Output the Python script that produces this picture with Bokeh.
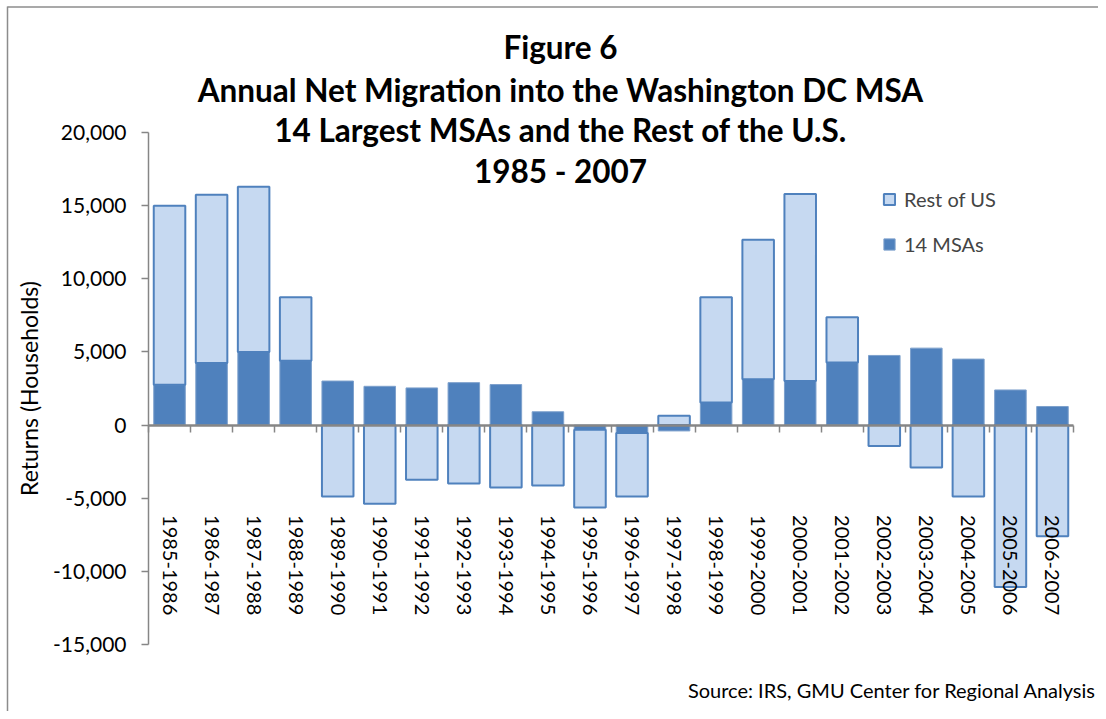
import math
from bokeh.plotting import figure
from bokeh.models import (Range1d, LinearAxis, FixedTicker, NumeralTickFormatter,
                          Label, Legend, LegendItem, ColumnDataSource)
from bokeh.embed import file_html
from bokeh.resources import INLINE

periods = ["1985-1986", "1986-1987", "1987-1988", "1988-1989", "1989-1990",
           "1990-1991", "1991-1992", "1992-1993", "1993-1994", "1994-1995",
           "1995-1996", "1996-1997", "1997-1998", "1998-1999", "1999-2000",
           "2000-2001", "2001-2002", "2002-2003", "2003-2004", "2004-2005",
           "2005-2006", "2006-2007"]
msa = [2750, 4250, 4990, 4400, 3010, 2650, 2540, 2900, 2770, 910,
       -320, -550, -400, 1540, 3130, 3010, 4270, 4760, 5260, 4510,
       2400, 1270]
rest = [12250, 11500, 11300, 4330, -4880, -5370, -3740, -3990, -4260, -4130,
        -5310, -4330, 630, 7190, 9540, 12790, 3100, -1430, -2900, -4880,
        -11070, -7600]
y_ticks = [-15000, -10000, -5000, 0, 5000, 10000, 15000, 20000]
title_lines = ["Figure 6", "Annual Net Migration into the Washington DC MSA",
               "14 Largest MSAs and the Rest of the U.S.", "1985 - 2007"]
y_title = "Returns (Households)"
source_text = "Source: IRS, GMU Center for Regional Analysis"

n = len(periods)
xs = [i + 0.5 for i in range(n)]
rest_bottom = [max(m, 0) if r >= 0 else min(m, 0) for m, r in zip(msa, rest)]
rest_top = [b + r for b, r in zip(rest_bottom, rest)]
src = ColumnDataSource(dict(x=xs, period=periods, msa=msa, zero=[0] * n,
                            rb=rest_bottom, rt=rest_top))

Y0, Y1 = -15000, 20000
FL, FT, FR, FB = 148, 132, 1073, 644   # axis extents in the picture (px)
ORG = 0                                 # picture position of the canvas
W, H = 1098, 711


def px_to_y(py):
    return Y1 - (py - FT) * (Y1 - Y0) / (FB - FT)


def px_to_x(px):
    return (px - FL) * n / (FR - FL)


p = figure(width=W, height=H,
           x_range=Range1d(px_to_x(ORG), px_to_x(ORG + W)),
           y_range=Range1d(px_to_y(ORG + H), px_to_y(ORG)),
           output_backend="svg", toolbar_location=None,
           x_axis_type=None, y_axis_type=None, min_border=0)
p.outline_line_color = None
p.background_fill_color = "white"
p.border_fill_color = "white"
p.grid.visible = False

grey = "#868686"

# chart-area border (top and left edges)
p.segment(x0=[px_to_x(7), px_to_x(7)], y0=[px_to_y(6.5), px_to_y(6)],
          x1=[px_to_x(ORG + W), px_to_x(7)], y1=[px_to_y(6.5), px_to_y(ORG + H)],
          line_color="#8c8c8c", line_width=1.5)

r_msa = p.vbar(x="x", bottom="zero", top="msa", width=0.75, source=src,
               fill_color="#4F81BD", line_color="#7DA0CC", line_width=1)
r_rest = p.vbar(x="x", bottom="rb", top="rt", width=0.75, source=src,
                fill_color="#C6D9F1", line_color="#4F81BD", line_width=2)

yaxis = LinearAxis(fixed_location=0, bounds=(Y0, Y1),
                   ticker=FixedTicker(ticks=y_ticks),
                   formatter=NumeralTickFormatter(format="0,0"),
                   axis_line_color=grey, axis_line_width=1.5,
                   major_tick_line_color=grey, major_tick_line_width=1.5,
                   major_tick_out=7, major_tick_in=0, minor_tick_line_color=None,
                   major_label_text_font="Lato", major_label_text_font_size="21px",
                   major_label_text_color="black", major_label_standoff=15)
p.add_layout(yaxis, "left")

xtick_axis = LinearAxis(fixed_location=0, bounds=(0, n),
                        ticker=FixedTicker(ticks=list(range(n + 1))),
                        axis_line_color=grey, axis_line_width=2.5,
                        major_tick_line_color=grey, major_tick_line_width=1.5,
                        major_tick_out=7, major_tick_in=0, minor_tick_line_color=None,
                        major_label_text_color=None)
p.add_layout(xtick_axis, "below")

xlab_axis = LinearAxis(fixed_location=0, bounds=(0, n), ticker=FixedTicker(ticks=xs),
                       major_label_overrides={x: lab for x, lab in zip(xs, periods)},
                       major_label_orientation="vertical", major_label_standoff=90,
                       major_tick_out=0, major_tick_in=0, major_tick_line_color=None,
                       axis_line_color=None, minor_tick_line_color=None,
                       major_label_text_font="Lato", major_label_text_font_size="20px",
                       major_label_text_color="black")
p.add_layout(xlab_axis, "below")

baselines = [46, 89, 129, 170]
for txt, b in zip(title_lines, baselines):
    p.add_layout(Label(x=px_to_x(560), y=px_to_y(b), text=txt, text_align="center",
                       text_baseline="alphabetic", text_font="Lato",
                       text_font_style="bold", text_font_size="31.5px",
                       text_color="black"))

p.add_layout(Label(x=px_to_x(28), y=px_to_y((FT + FB) / 2), text=y_title,
                   angle=math.pi / 2, text_align="center", text_baseline="middle",
                   text_font="Lato", text_font_size="23px", text_color="black"))

p.add_layout(Label(x=px_to_x(1096), y=px_to_y(689), text=source_text,
                   text_align="right", text_baseline="alphabetic", text_font="Lato",
                   text_font_size="20px", text_color="black"))

legend = Legend(items=[LegendItem(label="Rest of US", renderers=[r_rest]),
                       LegendItem(label="14 MSAs", renderers=[r_msa])],
                location=(882 - ORG, ORG + H - 256), padding=0, margin=0, spacing=21,
                glyph_width=14, glyph_height=14, label_height=20, label_standoff=8,
                label_text_font="Lato", label_text_font_size="20px",
                border_line_color=None, background_fill_alpha=0)
p.add_layout(legend, "center")

open("out.html", "w").write(file_html(p, INLINE))
